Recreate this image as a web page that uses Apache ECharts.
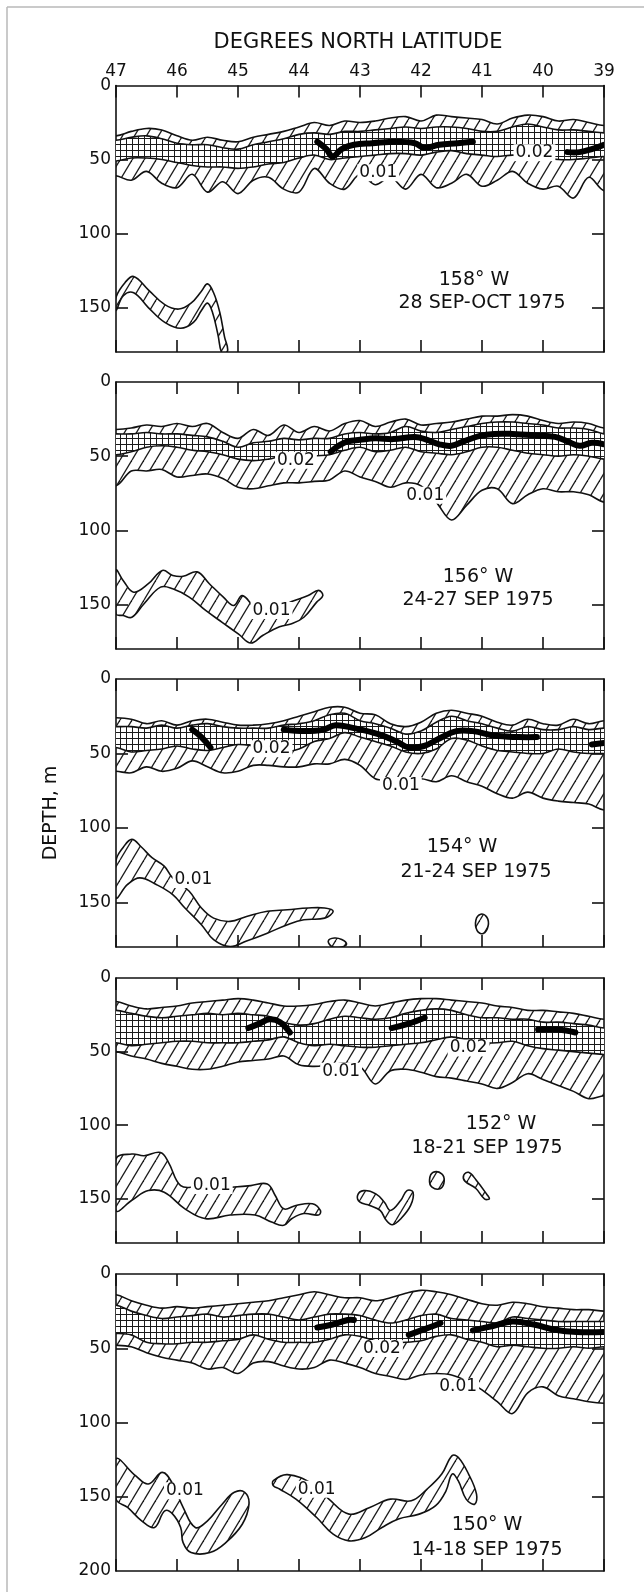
<!DOCTYPE html>
<html>
<head>
<meta charset="utf-8">
<script src="https://cdn.jsdelivr.net/npm/echarts@6/dist/echarts.min.js"></script>
<style>
  html, body { margin: 0; padding: 0; background: #fff; }
  #chart { width: 644px; height: 1592px; }
</style>
</head>
<body>
<div id="chart"></div>
<script>
// Latitude stations (degrees N) shared by every band profile, north edge first
const lats = [47, 46.75, 46.5, 46.25, 46, 45.75, 45.5, 45.25, 45, 44.75, 44.5, 44.25, 44,
  43.75, 43.5, 43.25, 43, 42.75, 42.5, 42.25, 42, 41.75, 41.5, 41.25, 41,
  40.75, 40.5, 40.25, 40, 39.75, 39.5, 39.25, 39];

// Tick labels
const latTicks = [47, 46, 45, 44, 43, 42, 41, 40, 39];
const depthTicks = [0, 50, 100, 150];
const depthTicksDeep = [0, 50, 100, 150, 200];

// ---- 158° W, 28 Sep - Oct 1975 (depths in m) ----
const w158Top01 = [34,31,29,30,34,37,35,37,38,35,33,31,28,25,27,24,25,24,22,21,24,20,21,22,23,26,22,20,21,24,23,25,27];
const w158Top02 = [37,35,34,36,39,40,40,42,43,40,38,36,33,32,33,31,31,30,29,28,29,28,28,29,31,31,28,26,28,30,30,31,32];
const w158Bot02 = [51,49,49,50,52,54,55,55,56,55,53,52,49,47,50,49,48,47,46,46,47,45,44,46,47,48,47,48,49,50,50,49,48];
const w158Bot01 = [61,64,58,66,69,60,72,65,73,64,62,70,72,56,66,70,60,67,62,70,60,69,66,60,68,64,58,66,70,68,76,62,71];
const w158CoreA = [[43.7,38],[43.55,43],[43.45,48],[43.3,43],[43.1,40],[42.8,39],[42.4,38],[42.1,39],[41.95,42],[41.7,40],[41.4,39],[41.15,38]];
const w158CoreB = [[39.6,45],[39.4,45],[39.2,43],[39,40]];
const w158Patch = [[47,143],[46.85,133],[46.71,129],[46.47,138],[46.2,148],[45.97,151],[45.77,147],[45.6,139],[45.5,134],[45.4,140],[45.3,153],[45.22,170],[45.17,179],[45.26,181],[45.33,168],[45.42,153],[45.5,147],[45.6,152],[45.73,160],[45.94,164],[46.2,160],[46.47,150],[46.71,140],[46.88,142],[47,152]];
const w158Labels = [[42.7, 59, '0.01'], [40.14, 45.5, '0.02']];

// ---- 156° W, 24-27 Sep 1975 ----
const w156Top01 = [32,31,29,30,28,30,28,34,38,32,36,29,34,30,33,28,26,30,27,25,29,28,27,25,23,23,22,23,26,28,27,28,31];
const w156Top02 = [35,35,34,35,35,36,37,40,44,41,40,38,39,38,38,35,34,35,34,30,33,34,32,30,28,27,27,28,29,31,31,32,35];
const w156Bot02 = [49,47,44,43,44,46,47,49,52,53,52,50,52,50,49,46,44,47,46,44,47,48,49,47,44,44,46,48,49,50,49,50,52];
const w156Bot01 = [70,60,60,59,64,63,62,65,71,72,70,68,68,67,66,60,64,67,71,68,70,81,93,83,73,72,82,76,72,74,74,76,81];
const w156Core = [[43.48,47],[43.35,43],[43.2,40],[43,39],[42.75,38],[42.45,38.5],[42.1,37],[41.9,39],[41.7,42],[41.5,43],[41.3,40],[41.05,36.5],[40.8,35],[40.5,35],[40.1,36],[39.8,37],[39.6,40],[39.4,43],[39.2,41],[39,42]];
const w156Patch = [[47,127],[46.88,134],[46.71,141.7],[46.47,136],[46.24,127],[46.07,130.4],[45.9,131],[45.67,128],[45.47,136],[45.24,145],[45.07,150.7],[44.93,144],[44.73,152],[44.6,155],[44.32,151.8],[44.12,148],[43.85,144],[43.68,140.5],[43.61,144],[43.71,148.4],[43.92,158.6],[44.12,163],[44.32,165],[44.59,170.7],[44.79,176],[44.99,170],[45.26,162],[45.53,154],[45.8,145],[46.07,139.4],[46.27,138.3],[46.54,149.5],[46.74,158.6],[46.88,157.4],[47,156.3]];
const w156Labels = [[44.05, 52.7, '0.02'], [41.93, 76.4, '0.01'], [44.45, 154, '0.01']];

// ---- 154° W, 21-24 Sep 1975 ----
const w154Top01 = [26,27,30,28,31,28,27,29,31,31,30,28,25,22,19,19,23,24,30,32,29,23,21,23,25,29,31,27,30,31,27,30,28];
const w154Top02 = [32,32,33,31,33,31,30,32,33,33,33,31,30,28,24,23,28,30,33,37,35,29,25,28,30,33,35,32,34,34,32,34,33];
const w154Bot02 = [46,49,48,47,45,47,48,46,44,45,47,49,47,42,40,36,39,42,45,49,50,47,40,41,45,48,49,50,50,47,49,50,50];
const w154Bot01 = [62,63,59,62,60,55,59,63,62,58,58,59,59,57,57,54,58,67,68,69,67,69,65,69,72,77,80,76,80,82,83,84,88];
const w154CoreA = [[45.75,34],[45.6,39],[45.45,46]];
const w154CoreB = [[44.25,34],[43.9,35],[43.6,34],[43.4,31],[43.1,33],[42.7,37],[42.4,42],[42.2,46],[41.95,45],[41.7,40],[41.42,35],[41.15,35],[40.8,38],[40.4,39],[40.1,39]];
const w154CoreC = [[39.2,44],[39,43]];
const w154Patch = [[47,122],[46.88,113],[46.74,107.7],[46.58,113],[46.41,120],[46.21,125.7],[46.07,133.6],[45.8,142.6],[45.6,153.8],[45.4,160.6],[45.13,162.8],[44.86,159.5],[44.52,156],[44.19,155],[43.85,153.8],[43.58,153.8],[43.44,156],[43.58,160.6],[43.92,161.7],[44.19,165],[44.52,170.7],[44.86,176],[45.13,179.7],[45.4,175],[45.6,165],[45.87,153.8],[46.07,144.8],[46.34,138],[46.61,133.6],[46.81,138],[47,147]];
const w154Speck1 = [[43.52,176],[43.42,174],[43.3,175],[43.22,178],[43.3,180],[43.45,180]];
const w154Speck2 = [[41.02,158],[40.92,160],[40.9,166],[40.98,171],[41.08,169],[41.1,162]];
const w154Labels = [[44.45, 46.8, '0.02'], [42.33, 71.6, '0.01'], [45.73, 134.7, '0.01']];

// ---- 152° W, 18-21 Sep 1975 ----
const w152Top01 = [16,19,21,20,19,17,16,15,14,15,17,19,19,18,16,15,17,19,17,15,14,14,15,16,17,19,20,22,22,23,24,26,28];
const w152Top02 = [22,24,26,27,26,25,24,25,24,25,26,30,32,31,28,26,27,28,27,24,22,21,22,25,27,27,28,28,30,30,31,32,34];
const w152Bot02 = [44,46,45,44,43,43,44,44,44,43,42,40,44,46,45,46,47,47,46,45,44,42,40,42,44,44,43,46,48,49,50,51,52];
const w152Bot01 = [50,53,55,58,60,62,62,60,57,56,55,53,59,60,59,58,60,72,63,62,64,67,68,70,72,75,71,65,69,73,77,82,80];
const w152CoreA = [[44.83,34],[44.65,31],[44.48,28],[44.31,30],[44.15,37]];
const w152CoreB = [[42.48,34],[42.2,31],[41.94,27]];
const w152CoreC = [[40.08,35],[39.75,35],[39.47,37]];
const w152Patch = [[47,123],[46.74,119.6],[46.54,120.7],[46.27,118.5],[46.14,125.2],[45.94,141],[45.67,142],[45.33,143],[45.06,142],[44.79,141],[44.52,139.9],[44.39,147.7],[44.25,156.8],[44.05,154.5],[43.78,153.4],[43.65,157.9],[43.68,161],[43.92,160],[44.12,163.5],[44.25,168],[44.45,165.8],[44.72,161],[45.13,161],[45.53,163.5],[45.87,156.8],[46.21,145.5],[46.47,144.4],[46.74,151],[47,157.9]];
const w152Speck1 = [[43.04,147.7],[42.94,144.4],[42.74,146.6],[42.6,152.3],[42.5,157.9],[42.33,151],[42.23,144.4],[42.13,145.5],[42.17,154.5],[42.33,163.5],[42.47,167.6],[42.57,164.6],[42.67,157.9],[42.84,154.5],[43.0,152.3]];
const w152Speck2 = [[41.8,132],[41.66,133],[41.62,138],[41.68,143],[41.82,142],[41.86,137]];
const w152Speck3 = [[41.3,134],[41.22,132],[41.1,137],[40.92,147],[40.88,150],[40.96,150],[41.1,143],[41.28,138]];
const w152Labels = [[43.31, 63.3, '0.01'], [41.22, 47.5, '0.02'], [45.43, 141, '0.01']];

// ---- 150° W, 14-18 Sep 1975 ----
const w150Top01 = [14,18,21,23,22,23,22,21,20,19,18,16,14,12,14,16,16,18,16,13,11,12,14,17,20,21,19,20,22,23,24,24,25];
const w150Top02 = [21,25,28,30,29,28,27,29,28,27,27,29,31,29,27,27,28,31,33,31,28,27,30,31,32,33,29,30,31,32,32,32,32];
const w150Bot02 = [40,41,46,47,47,46,46,45,44,41,44,46,46,46,44,41,42,45,46,46,45,42,41,44,46,49,48,49,50,50,49,50,49];
const w150Bot01 = [48,49,53,56,58,60,64,63,67,60,59,62,64,63,58,60,63,67,69,71,68,67,68,72,78,86,94,80,76,82,84,86,87];
const w150CoreA = [[43.7,36],[43.45,34],[43.2,31],[43.1,31]];
const w150CoreB = [[42.2,41],[42,38],[41.8,35],[41.68,33]];
const w150CoreC = [[41.15,38],[40.82,35],[40.5,32],[40.15,34],[39.8,37.5],[39.45,39],[39,39]];
const w150PatchA = [[47,124.5],[46.68,135.8],[46.47,141.4],[46.24,133.6],[46.07,141.4],[45.9,157.2],[45.7,170.7],[45.5,166.2],[45.26,155],[45.06,147],[44.89,147],[44.82,155],[44.93,168.5],[45.2,180.9],[45.46,187.6],[45.77,187.6],[45.9,180.9],[45.94,170.7],[46.07,161.7],[46.2,159.5],[46.37,170.7],[46.58,166.2],[46.81,157.2],[47,151.6]];
const w150PatchB = [[44.42,139.2],[44.19,135.1],[43.78,141.4],[43.51,151.6],[43.18,161.7],[42.84,157.2],[42.5,151.6],[42.16,152.7],[41.9,144.8],[41.66,134.7],[41.49,122.3],[41.39,123.4],[41.22,134.7],[41.09,148.2],[41.12,155],[41.26,151.6],[41.39,139.2],[41.49,134.7],[41.59,146],[41.76,156],[42.03,161.7],[42.37,165],[42.64,170.7],[42.91,177.5],[43.18,179.7],[43.44,175.2],[43.71,164],[44.05,151.6],[44.32,144.8],[44.42,142.6]];
const w150Labels = [[42.64, 50.2, '0.02'], [41.39, 76, '0.01'], [45.87, 146, '0.01'], [43.71, 145, '0.01']];

// Panel assembly, top to bottom
const panels = [
  { station: '158° W', dates: '28 SEP-OCT 1975', maxDepth: 180,
    top01: w158Top01, top02: w158Top02, bot02: w158Bot02, bot01: w158Bot01,
    cores: [w158CoreA, w158CoreB], patches: [w158Patch], labels: w158Labels },
  { station: '156° W', dates: '24-27 SEP 1975', maxDepth: 180,
    top01: w156Top01, top02: w156Top02, bot02: w156Bot02, bot01: w156Bot01,
    cores: [w156Core], patches: [w156Patch], labels: w156Labels },
  { station: '154° W', dates: '21-24 SEP 1975', maxDepth: 180,
    top01: w154Top01, top02: w154Top02, bot02: w154Bot02, bot01: w154Bot01,
    cores: [w154CoreA, w154CoreB, w154CoreC], patches: [w154Patch, w154Speck1, w154Speck2], labels: w154Labels },
  { station: '152° W', dates: '18-21 SEP 1975', maxDepth: 180,
    top01: w152Top01, top02: w152Top02, bot02: w152Bot02, bot01: w152Bot01,
    cores: [w152CoreA, w152CoreB, w152CoreC], patches: [w152Patch, w152Speck1, w152Speck2, w152Speck3], labels: w152Labels },
  { station: '150° W', dates: '14-18 SEP 1975', maxDepth: 200,
    top01: w150Top01, top02: w150Top02, bot02: w150Bot02, bot01: w150Bot01,
    cores: [w150CoreA, w150CoreB, w150CoreC], patches: [w150PatchA, w150PatchB], labels: w150Labels }
];

// Layout of the five stacked plots (pixels)
const layout = {
  left: 116, width: 488,
  tops: [85.5, 382, 679, 978, 1274],
  heights: [266.5, 267, 268, 265, 297],
  stationText: [[474, 280, 482, 303], [478, 577, 478, 600], [462, 847, 476, 872], [501, 1124, 487, 1148], [487, 1525, 487, 1550]]
};

const INK = '#111';
const FONT = '"DejaVu Sans", "Liberation Sans", sans-serif';

// Fill patterns: single-hatch for the 0.01 contour, cross-hatch for 0.02
function makeHatch() {
  const w = 12, h = 20;
  const c = document.createElement('canvas');
  c.width = w; c.height = h;
  const g = c.getContext('2d');
  g.strokeStyle = '#1a1a1a';
  g.lineWidth = 1.3;
  for (let k = -1; k <= 1; k++) {
    g.beginPath();
    g.moveTo(k * w, h);
    g.lineTo(k * w + w, 0);
    g.stroke();
  }
  return c;
}
function makeGrid() {
  const s = 6;
  const c = document.createElement('canvas');
  c.width = s; c.height = s;
  const g = c.getContext('2d');
  g.fillStyle = '#fff';
  g.fillRect(0, 0, s, s);
  g.fillStyle = '#1a1a1a';
  g.fillRect(0, 0, 1, s);
  g.fillRect(0, 0, s, 1);
  return c;
}
const hatchFill = { image: makeHatch(), repeat: 'repeat' };
const gridFill = { image: makeGrid(), repeat: 'repeat' };

function drawPanel(p, api) {
  const pt = (lat, d) => api.coord([lat, d]);
  const profile = arr => arr.map((d, i) => pt(lats[i], d));
  // closed outline between two profiles, run a little past the frame so the
  // smoothed corners fall outside the clipped plot area
  const band = (upper, lower) => {
    const a = profile(upper);
    const b = profile(lower).reverse();
    const pad = 24;
    return [[a[0][0] - pad, a[0][1]], ...a, [a[a.length - 1][0] + pad, a[a.length - 1][1]],
            [b[0][0] + pad, b[0][1]], ...b, [b[b.length - 1][0] - pad, b[b.length - 1][1]]];
  };
  const children = [];
  children.push({ type: 'polygon', shape: { points: band(p.top01, p.bot01), smooth: 0.35 },
    style: { fill: hatchFill, stroke: INK, lineWidth: 1.6 } });
  children.push({ type: 'polygon', shape: { points: band(p.top02, p.bot02), smooth: 0.35 },
    style: { fill: gridFill, stroke: INK, lineWidth: 1.6 } });
  p.patches.forEach(poly => {
    children.push({ type: 'polygon', shape: { points: poly.map(q => pt(q[0], q[1])), smooth: 0.4 },
      style: { fill: hatchFill, stroke: INK, lineWidth: 1.6 } });
  });
  p.cores.forEach(line => {
    children.push({ type: 'polyline', shape: { points: line.map(q => pt(q[0], q[1])), smooth: 0.4 },
      style: { fill: null, stroke: '#000', lineWidth: 6, lineCap: 'round', lineJoin: 'round' } });
  });
  p.labels.forEach(l => {
    const c = pt(l[0], l[1]);
    children.push({ type: 'text', x: c[0], y: c[1],
      style: { text: l[2], font: '17px ' + FONT, fill: INK, align: 'center', verticalAlign: 'middle',
        backgroundColor: '#fff', padding: [0, 2] } });
  });
  return { type: 'group', children };
}

const grid = [], xAxis = [], yAxis = [], series = [], graphic = [];
const axisLine = { show: true, onZero: false, lineStyle: { color: INK, width: 1.6 } };
const axisTick = { show: true, inside: true, length: 12, lineStyle: { color: INK, width: 1.6 } };
const labelStyle = { fontSize: 17, fontFamily: FONT, color: INK };

panels.forEach((p, i) => {
  grid.push({ left: layout.left, width: layout.width, top: layout.tops[i], height: layout.heights[i] });
  const xBase = { gridIndex: i, type: 'value', min: 39, max: 47, interval: 1, inverse: true,
    axisLine, axisTick, splitLine: { show: false } };
  xAxis.push(Object.assign({}, xBase, { position: 'bottom', axisLabel: { show: false } }));
  xAxis.push(Object.assign({}, xBase, { position: 'top',
    axisLabel: Object.assign({ show: i === 0, margin: 5, customValues: latTicks }, labelStyle) }));

  const ticks = p.maxDepth === 200 ? depthTicksDeep : depthTicks;
  const inner = ticks.filter(v => v > 0 && v < p.maxDepth);
  const yBase = { gridIndex: i, type: 'value', min: 0, max: p.maxDepth, interval: 50, inverse: true,
    axisLine, axisTick: Object.assign({}, axisTick, { customValues: inner }), splitLine: { show: false } };
  yAxis.push(Object.assign({}, yBase, { position: 'left',
    axisLabel: Object.assign({ show: true, margin: 5, customValues: ticks }, labelStyle) }));
  yAxis.push(Object.assign({}, yBase, { position: 'right', axisLabel: { show: false } }));

  series.push({
    type: 'custom', coordinateSystem: 'cartesian2d', xAxisIndex: 2 * i, yAxisIndex: 2 * i,
    clip: true, silent: true, animation: false,
    data: [[lats[0], 0]],
    renderItem: (params, api) => drawPanel(p, api)
  });

  const st = layout.stationText[i];
  graphic.push({ type: 'text', x: st[0], y: st[1], silent: true,
    style: { text: p.station, font: '19px ' + FONT, fill: INK, align: 'center', verticalAlign: 'middle',
      textAlign: 'center', textVerticalAlign: 'middle' } });
  graphic.push({ type: 'text', x: st[2], y: st[3], silent: true,
    style: { text: p.dates, font: '19px ' + FONT, fill: INK, align: 'center', verticalAlign: 'middle',
      textAlign: 'center', textVerticalAlign: 'middle' } });
});

// Figure caption, vertical axis name and the plate border
graphic.push({ type: 'text', x: 358, y: 43, silent: true,
  style: { text: 'DEGREES NORTH LATITUDE', font: '21px ' + FONT, fill: INK, align: 'center', verticalAlign: 'middle',
    textAlign: 'center', textVerticalAlign: 'middle' } });
graphic.push({ type: 'text', x: 51, y: 813, rotation: Math.PI / 2, silent: true,
  style: { text: 'DEPTH, m', font: '19px ' + FONT, fill: INK, align: 'center', verticalAlign: 'middle',
    textAlign: 'center', textVerticalAlign: 'middle' } });
graphic.push({ type: 'line', silent: true, shape: { x1: 7, y1: 7, x2: 644, y2: 7 }, style: { stroke: '#b8b8b8', lineWidth: 1.5 } });
graphic.push({ type: 'line', silent: true, shape: { x1: 7, y1: 7, x2: 7, y2: 1592 }, style: { stroke: '#b8b8b8', lineWidth: 1.5 } });

const chart = echarts.init(document.getElementById('chart'), null, { renderer: 'canvas' });
chart.setOption({
  backgroundColor: '#fff',
  animation: false,
  grid, xAxis, yAxis, series, graphic
});
</script>
</body>
</html>
